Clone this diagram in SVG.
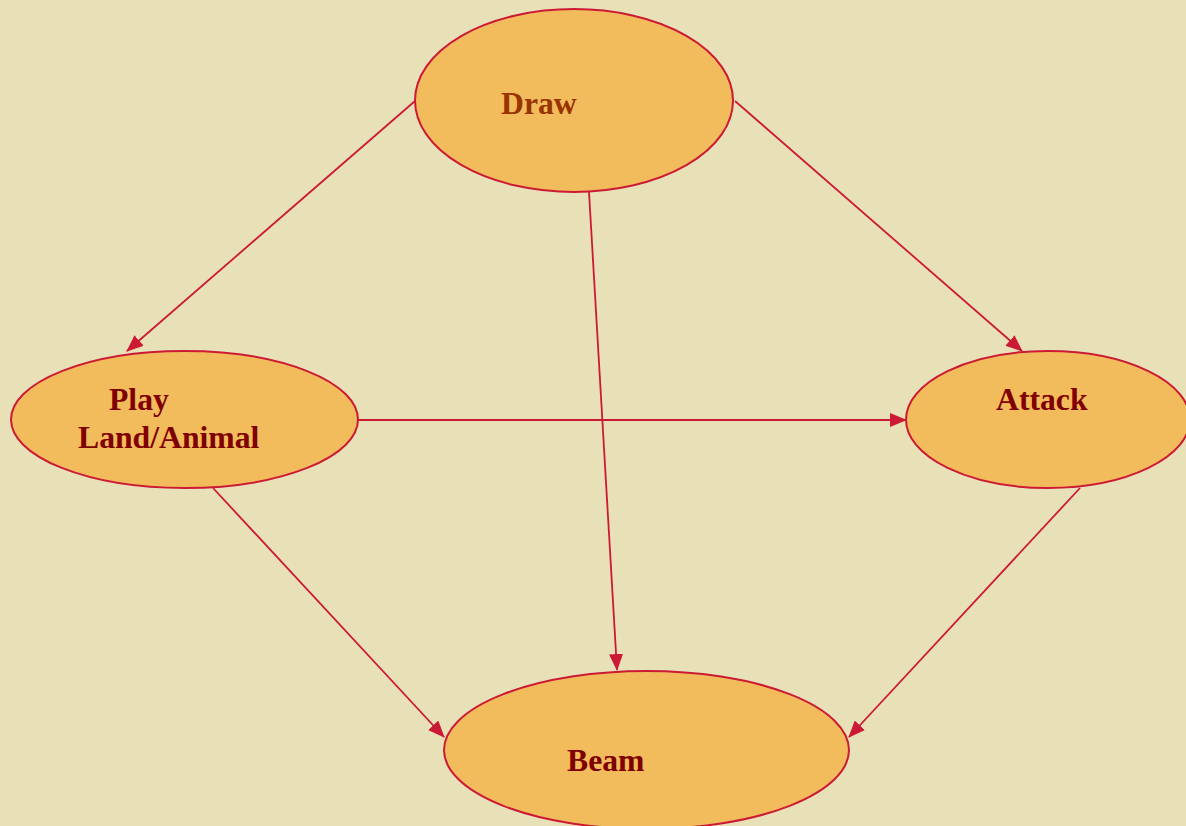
<svg xmlns="http://www.w3.org/2000/svg" width="1186" height="826" viewBox="0 0 1186 826">
<style>
.node{fill:#F2BC5C;stroke:#CC1A35;stroke-width:2}
.lbl{font-family:"Liberation Serif","Times New Roman",serif;font-weight:bold;font-size:31.7px;fill:#800000}
.edge{stroke:#CC1A35;stroke-width:1.8;fill:none;marker-end:url(#arr)}
</style>
<defs>
<marker id="arr" markerUnits="userSpaceOnUse" markerWidth="17" markerHeight="14" refX="16" refY="7" orient="auto">
<path d="M0,0 L17,7 L0,14 z" fill="#CC1A35"/>
</marker>
</defs>
<rect width="1186" height="826" fill="#E8E1B8"/>
<g id="connectors">
<line class="edge" x1="415" y1="101" x2="127" y2="351"/>
<line class="edge" x1="735" y1="101" x2="1022" y2="351"/>
<line class="edge" x1="589" y1="192" x2="617" y2="670"/>
<line class="edge" x1="358" y1="420" x2="906" y2="420"/>
<line class="edge" x1="213" y1="488" x2="444" y2="737"/>
<line class="edge" x1="1080" y1="488" x2="849" y2="737"/>
</g>
<g id="draw">
<ellipse class="node" cx="574" cy="100.5" rx="159" ry="91.5"/>
<text class="lbl" x="501" y="114" style="fill:#993300">Draw</text>
</g>
<g id="play">
<ellipse class="node" cx="184.5" cy="419.5" rx="173.5" ry="68.5"/>
<text class="lbl" x="109" y="410">Play</text>
<text class="lbl" x="78" y="448">Land/Animal</text>
</g>
<g id="attack">
<ellipse class="node" cx="1048" cy="419.5" rx="142" ry="68.5"/>
<text class="lbl" x="996" y="410">Attack</text>
</g>
<g id="beam">
<ellipse class="node" cx="646.5" cy="750" rx="202.5" ry="79"/>
<text class="lbl" x="567" y="771">Beam</text>
</g>
</svg>
